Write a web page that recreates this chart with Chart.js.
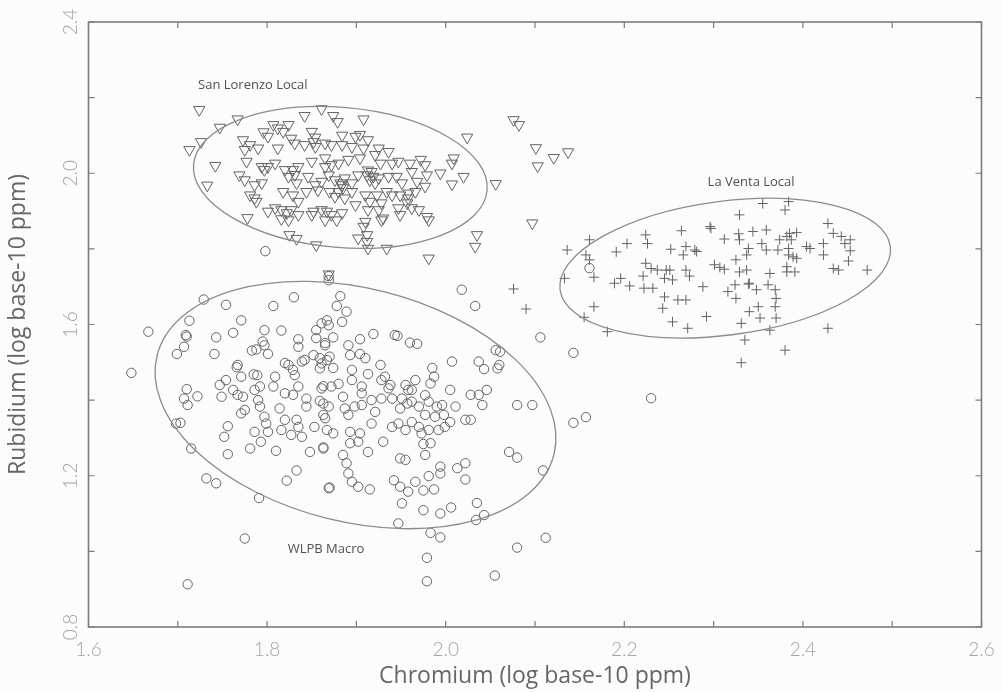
<!DOCTYPE html>
<html>
<head>
<meta charset="utf-8">
<script src="https://cdn.jsdelivr.net/npm/chart.js@4.4.1/dist/chart.umd.min.js"></script>
<style>
  html, body { margin: 0; padding: 0; background: #fcfcfc; }
  #wrap { width: 1002px; height: 692px; }
</style>
</head>
<body>
<div id="wrap"><canvas id="cr_rb" width="1002" height="692"></canvas></div>
<script>
(function () {
  'use strict';

  // 目盛り
  const xTicks = [1.6, 1.8, 2.0, 2.2, 2.4, 2.6];
  const xMinor = [1.7, 1.9, 2.1, 2.3, 2.5];
  const yTicks = [0.8, 1.2, 1.6, 2.0, 2.4];
  const yMinor = [1.0, 1.4, 1.8, 2.2];

  // San Lorenzo Local (▽)
  const sanLorenzo = [
    [1.724, 2.168], [1.767, 2.143], [1.747, 2.121], [1.842, 2.152], [1.861, 2.170], [1.874, 2.152], [1.879, 2.136], [1.908, 2.143],
    [1.713, 2.062], [1.726, 2.083], [1.742, 2.020], [1.733, 1.968], [2.024, 2.095], [2.009, 2.040], [2.007, 2.026], [1.994, 2.000],
    [2.020, 1.991], [2.007, 1.971], [2.035, 1.837], [2.033, 1.806], [1.981, 1.775], [1.934, 1.801], [1.855, 1.810], [1.825, 1.837],
    [1.833, 1.827], [1.778, 1.882], [1.902, 1.828], [1.912, 1.819], [1.913, 1.801], [1.912, 1.837], [1.908, 1.859], [1.910, 1.872],
    [1.981, 1.876], [1.979, 1.885], [1.928, 1.876], [1.930, 1.881],
    [1.796, 2.109], [1.807, 2.128], [1.812, 2.119], [1.824, 2.128], [1.818, 2.110], [1.801, 2.097], [1.850, 2.110], [1.854, 2.095],
    [1.884, 2.100], [1.899, 2.097], [1.904, 2.102], [1.913, 2.088], [1.773, 2.088], [1.781, 2.075], [1.790, 2.066], [1.775, 2.062],
    [1.812, 2.066], [1.827, 2.092], [1.831, 2.079], [1.842, 2.075], [1.854, 2.070], [1.865, 2.079], [1.872, 2.075], [1.884, 2.075],
    [1.895, 2.070], [1.908, 2.066], [1.925, 2.066], [1.936, 2.057], [1.921, 2.049], [1.777, 2.031], [1.794, 2.017], [1.801, 2.017],
    [1.809, 2.026], [1.820, 2.009], [1.829, 2.009], [1.835, 2.017], [1.850, 2.031], [1.865, 2.040], [1.872, 2.022], [1.880, 2.026],
    [1.891, 2.036], [1.904, 2.040], [1.917, 2.004], [1.927, 2.026], [1.940, 2.026], [1.947, 2.031], [1.960, 2.026], [1.972, 2.036],
    [1.977, 2.022], [1.962, 2.004], [1.979, 1.995], [1.769, 1.995], [1.775, 1.982], [1.786, 1.969], [1.794, 1.974], [1.824, 1.991],
    [1.833, 1.974], [1.846, 1.991], [1.854, 1.969], [1.861, 1.978], [1.869, 1.995], [1.876, 1.982], [1.884, 1.969], [1.887, 1.987],
    [1.895, 1.974], [1.902, 1.995], [1.912, 1.995], [1.915, 1.982], [1.925, 1.987], [1.936, 1.991], [1.945, 1.991], [1.951, 1.974],
    [1.968, 1.978], [1.977, 1.965], [1.781, 1.942], [1.786, 1.934], [1.788, 1.925], [1.818, 1.951], [1.829, 1.942], [1.835, 1.925],
    [1.844, 1.951], [1.857, 1.955], [1.870, 1.951], [1.876, 1.938], [1.887, 1.934], [1.895, 1.951], [1.910, 1.942], [1.923, 1.942],
    [1.934, 1.951], [1.940, 1.942], [1.949, 1.942], [1.958, 1.947], [1.966, 1.951], [1.958, 1.934], [1.957, 1.921], [1.928, 1.921],
    [1.915, 1.925], [1.801, 1.899], [1.809, 1.908], [1.816, 1.903], [1.822, 1.895], [1.827, 1.903], [1.835, 1.890], [1.852, 1.899],
    [1.861, 1.903], [1.867, 1.899], [1.872, 1.890], [1.884, 1.895], [1.878, 1.876], [1.865, 1.876], [1.850, 1.890], [1.824, 1.876],
    [1.816, 1.879], [1.899, 1.916], [1.913, 1.903], [1.925, 1.903], [1.947, 1.908], [1.962, 1.908], [1.970, 1.903], [1.949, 1.890],
    [1.882, 1.974], [1.885, 1.961], [1.913, 2.008], [1.919, 1.991], [1.921, 1.974], [1.880, 1.951], [1.831, 1.996], [1.797, 2.009],
    [1.852, 2.083], [1.865, 2.017],
    [2.076, 2.141], [2.082, 2.128], [2.101, 2.067], [2.121, 2.041], [2.137, 2.056], [2.103, 2.019], [2.056, 1.972], [2.097, 1.868],
    [1.869, 1.733],
  ];

  // La Venta Local (+)
  const laVenta = [
    [2.136, 1.797], [2.161, 1.824], [2.157, 1.784], [2.161, 1.771], [2.133, 1.722], [2.166, 1.725], [2.166, 1.647], [2.155, 1.619],
    [2.181, 1.581], [2.191, 1.792], [2.203, 1.814], [2.189, 1.709], [2.196, 1.722], [2.206, 1.702], [2.224, 1.837], [2.226, 1.814],
    [2.224, 1.762], [2.230, 1.748], [2.221, 1.728], [2.222, 1.696], [2.232, 1.696], [2.237, 1.744], [2.247, 1.744], [2.251, 1.744],
    [2.245, 1.722], [2.254, 1.718], [2.252, 1.799], [2.264, 1.848], [2.269, 1.806], [2.266, 1.784], [2.279, 1.797], [2.281, 1.793],
    [2.269, 1.744], [2.273, 1.728], [2.245, 1.673], [2.243, 1.643], [2.260, 1.665], [2.269, 1.665], [2.254, 1.607], [2.271, 1.590],
    [2.288, 1.700], [2.292, 1.621], [2.296, 1.859], [2.297, 1.854], [2.312, 1.826], [2.301, 1.758], [2.307, 1.751], [2.312, 1.746],
    [2.316, 1.687], [2.324, 1.705], [2.325, 1.669], [2.328, 1.840], [2.329, 1.824], [2.325, 1.771], [2.339, 1.801], [2.337, 1.784],
    [2.329, 1.739], [2.337, 1.744], [2.340, 1.709], [2.339, 1.707], [2.348, 1.692], [2.350, 1.647], [2.340, 1.634], [2.352, 1.617],
    [2.331, 1.603], [2.329, 1.890], [2.355, 1.920], [2.344, 1.846], [2.359, 1.850], [2.354, 1.814], [2.359, 1.797], [2.363, 1.735],
    [2.361, 1.705], [2.369, 1.692], [2.370, 1.669], [2.369, 1.647], [2.370, 1.617], [2.363, 1.585], [2.335, 1.559], [2.331, 1.499],
    [2.380, 1.532], [2.380, 1.903], [2.384, 1.925], [2.382, 1.833], [2.385, 1.841], [2.387, 1.824], [2.393, 1.843], [2.374, 1.824],
    [2.372, 1.797], [2.384, 1.801], [2.389, 1.779], [2.393, 1.775], [2.382, 1.753], [2.391, 1.739], [2.382, 1.739], [2.408, 1.801],
    [2.404, 1.806], [2.423, 1.814], [2.423, 1.784], [2.428, 1.867], [2.434, 1.841], [2.443, 1.833], [2.447, 1.814], [2.453, 1.824],
    [2.453, 1.795], [2.451, 1.768], [2.434, 1.748], [2.440, 1.744], [2.472, 1.744], [2.428, 1.590], [2.384, 1.784],
    [2.076, 1.694], [2.090, 1.641],
  ];

  // WLPB Macro (○)
  const wlpb = [
    [1.729, 1.666], [1.754, 1.652], [1.807, 1.649], [1.830, 1.672], [1.667, 1.581], [1.713, 1.610], [1.771, 1.611], [1.709, 1.572],
    [1.710, 1.568], [1.743, 1.566], [1.762, 1.578], [1.797, 1.585], [1.816, 1.584], [1.835, 1.561], [1.835, 1.541], [1.707, 1.541],
    [1.699, 1.522], [1.741, 1.522], [1.783, 1.531], [1.788, 1.534], [1.795, 1.555], [1.797, 1.545], [1.801, 1.522], [1.855, 1.585],
    [1.861, 1.603], [1.855, 1.564], [1.865, 1.551], [1.852, 1.519], [1.859, 1.511], [1.867, 1.506], [1.648, 1.472], [1.767, 1.493],
    [1.766, 1.487], [1.771, 1.462], [1.785, 1.468], [1.789, 1.466], [1.809, 1.462], [1.820, 1.498], [1.824, 1.493], [1.829, 1.480],
    [1.839, 1.502], [1.842, 1.506], [1.831, 1.466], [1.859, 1.484], [1.710, 1.429], [1.707, 1.404], [1.711, 1.387], [1.722, 1.410],
    [1.747, 1.440], [1.754, 1.453], [1.749, 1.409], [1.762, 1.427], [1.767, 1.414], [1.773, 1.409], [1.786, 1.427], [1.792, 1.436],
    [1.790, 1.400], [1.792, 1.383], [1.807, 1.436], [1.820, 1.418], [1.829, 1.414], [1.835, 1.436], [1.844, 1.404], [1.844, 1.383],
    [1.861, 1.431], [1.863, 1.391], [1.698, 1.338], [1.703, 1.340], [1.756, 1.331], [1.771, 1.365], [1.775, 1.374], [1.797, 1.356],
    [1.799, 1.338], [1.814, 1.378], [1.820, 1.348], [1.816, 1.321], [1.833, 1.348], [1.835, 1.329], [1.786, 1.316], [1.801, 1.316],
    [1.827, 1.308], [1.839, 1.303], [1.752, 1.303], [1.865, 1.352], [1.867, 1.321], [1.853, 1.329],
    [1.756, 1.257], [1.781, 1.272], [1.793, 1.290], [1.810, 1.266], [1.848, 1.263], [1.863, 1.272], [1.715, 1.272], [1.732, 1.193],
    [1.743, 1.180], [1.791, 1.141], [1.822, 1.187], [1.833, 1.214], [1.869, 1.167], [1.775, 1.034], [1.711, 0.913],
    [1.869, 1.728], [1.869, 1.717], [1.882, 1.675], [1.878, 1.649], [1.889, 1.634], [1.884, 1.607], [1.867, 1.611], [1.869, 1.598],
    [1.874, 1.566], [1.865, 1.545], [1.870, 1.515], [1.861, 1.497], [1.874, 1.485], [1.919, 1.575], [1.943, 1.572], [1.946, 1.570],
    [1.960, 1.552], [1.968, 1.549], [1.904, 1.561], [1.891, 1.545], [1.893, 1.519], [1.904, 1.522], [1.910, 1.511], [1.927, 1.493],
    [1.895, 1.480], [1.913, 1.469], [1.906, 1.436], [1.895, 1.453], [1.906, 1.418], [1.880, 1.443], [1.872, 1.436], [1.863, 1.437],
    [1.869, 1.383], [1.885, 1.409], [1.887, 1.378], [1.891, 1.361], [1.898, 1.383], [1.906, 1.387], [1.917, 1.400], [1.921, 1.369],
    [1.928, 1.453], [1.932, 1.462], [1.938, 1.440], [1.936, 1.431], [1.955, 1.440], [1.958, 1.427], [1.966, 1.453], [1.962, 1.427],
    [1.928, 1.404], [1.940, 1.404], [1.951, 1.404], [1.949, 1.378], [1.957, 1.391], [1.962, 1.396], [1.970, 1.383], [1.977, 1.413],
    [1.985, 1.485], [1.987, 1.462], [1.983, 1.444], [1.981, 1.396], [1.990, 1.383], [1.996, 1.387], [1.977, 1.361], [1.988, 1.356],
    [1.998, 1.361], [2.005, 1.342], [2.007, 1.502], [2.005, 1.427], [2.011, 1.383], [2.018, 1.692], [2.033, 1.649], [2.037, 1.502],
    [2.043, 1.482], [2.056, 1.532], [2.061, 1.528], [2.060, 1.493], [2.058, 1.484], [2.028, 1.414], [2.037, 1.414], [2.046, 1.427],
    [2.041, 1.387], [2.022, 1.348], [2.028, 1.348], [2.080, 1.387], [2.097, 1.387], [2.106, 1.566], [2.143, 1.525], [2.143, 1.340],
    [1.940, 1.329], [1.947, 1.338], [1.955, 1.321], [1.962, 1.342], [1.970, 1.329], [1.973, 1.312], [1.981, 1.321], [1.992, 1.321],
    [1.999, 1.329], [1.917, 1.338], [1.904, 1.312], [1.893, 1.316], [1.874, 1.312], [1.863, 1.361], [1.859, 1.398],
    [1.863, 1.275], [1.893, 1.286], [1.902, 1.290], [1.913, 1.263], [1.885, 1.255], [1.889, 1.233], [1.891, 1.206], [1.895, 1.184],
    [1.902, 1.171], [1.915, 1.164], [1.870, 1.169], [1.930, 1.290], [1.975, 1.284], [1.983, 1.286], [1.977, 1.255], [1.949, 1.246],
    [1.955, 1.242], [1.942, 1.188], [1.949, 1.171], [1.958, 1.158], [1.966, 1.184], [1.975, 1.161], [1.987, 1.164], [1.981, 1.199],
    [1.994, 1.206], [1.994, 1.224], [2.013, 1.220], [2.022, 1.233], [2.022, 1.190], [1.951, 1.127], [1.975, 1.109], [1.994, 1.100],
    [2.006, 1.116], [2.035, 1.128], [2.043, 1.096], [2.034, 1.083], [2.071, 1.263], [2.080, 1.248], [2.109, 1.214], [1.947, 1.074],
    [1.983, 1.049], [1.994, 1.037], [1.979, 0.983], [1.979, 0.921], [2.055, 0.936], [2.080, 1.010], [2.112, 1.036],
    [2.161, 1.749], [2.230, 1.405], [2.157, 1.355], [1.798, 1.794],
  ];

  // 楕円 [中心x, 中心y, 半径x, 半径y, 傾き(度)]
  const ellipses = [
    [1.882, 1.989, 0.165, 0.185, 5],
    [2.313, 1.749, 0.1865, 0.177, -7.5],
    [1.899, 1.387, 0.229, 0.309, 14],
  ];

  // グループ名と位置
  const groupNames = ['San Lorenzo Local', 'La Venta Local', 'WLPB Macro'];
  const namePos = [[1.784, 2.233], [2.342, 1.977], [1.866, 1.006]];

  const markColor = '#646464';

  // 楕円・枠・内向き目盛り・ラベル
  const decor = {
    id: 'decor',
    afterDatasetsDraw(chart) {
      const { ctx, chartArea: a, scales: { x, y } } = chart;
      ctx.save();

      ctx.strokeStyle = '#8c8c8c';
      ctx.lineWidth = 1.3;
      ellipses.forEach(e => {
        const cx = x.getPixelForValue(e[0]);
        const cy = y.getPixelForValue(e[1]);
        const rx = Math.abs(x.getPixelForValue(e[0] + e[2]) - cx);
        const ry = Math.abs(y.getPixelForValue(e[1] + e[3]) - cy);
        ctx.beginPath();
        ctx.ellipse(cx, cy, rx, ry, e[4] * Math.PI / 180, 0, Math.PI * 2);
        ctx.stroke();
      });

      ctx.strokeStyle = '#7c7c7c';
      ctx.lineWidth = 1.6;
      ctx.strokeRect(a.left, a.top, a.right - a.left, a.bottom - a.top);

      ctx.lineWidth = 1.2;
      const tl = 6;
      ctx.beginPath();
      xTicks.concat(xMinor).forEach(v => {
        const px = x.getPixelForValue(v);
        ctx.moveTo(px, a.bottom); ctx.lineTo(px, a.bottom - tl);
        ctx.moveTo(px, a.top); ctx.lineTo(px, a.top + tl);
      });
      yTicks.concat(yMinor).forEach(v => {
        const py = y.getPixelForValue(v);
        ctx.moveTo(a.left, py); ctx.lineTo(a.left + tl, py);
        ctx.moveTo(a.right, py); ctx.lineTo(a.right - tl, py);
      });
      ctx.stroke();

      ctx.fillStyle = '#505050';
      ctx.font = '13px "Open Sans"';
      ctx.textAlign = 'center';
      ctx.textBaseline = 'middle';
      groupNames.forEach((n, i) => {
        ctx.fillText(n, x.getPixelForValue(namePos[i][0]), y.getPixelForValue(namePos[i][1]));
      });
      ctx.restore();
    }
  };

  const tickFont = { family: 'Lato', size: 19, weight: 300 };
  const titleFont = { family: 'Open Sans', size: 23 };

  const ctx = document.getElementById('cr_rb').getContext('2d');

  new Chart(ctx, {
    type: 'scatter',
    data: {
      datasets: [
        { label: groupNames[0], data: sanLorenzo, pointStyle: 'triangle', rotation: 180, pointRadius: 6.5,
          borderColor: markColor, backgroundColor: 'rgba(0,0,0,0)', borderWidth: 1 },
        { label: groupNames[1], data: laVenta, pointStyle: 'cross', pointRadius: 5,
          borderColor: markColor, backgroundColor: 'rgba(0,0,0,0)', borderWidth: 1 },
        { label: groupNames[2], data: wlpb, pointStyle: 'circle', pointRadius: 4.7,
          borderColor: markColor, backgroundColor: 'rgba(0,0,0,0)', borderWidth: 1 },
      ],
    },
    options: {
      responsive: false,
      animation: false,
      layout: { padding: { left: 0, right: 20.5, top: 22, bottom: 0 } },
      plugins: { legend: { display: false }, tooltip: { enabled: false } },
      scales: {
        x: {
          type: 'linear', min: 1.6, max: 2.6,
          afterBuildTicks: s => { s.ticks = xTicks.map(v => ({ value: v })); },
          afterFit: s => { s.height = 65; },
          grid: { display: false, drawTicks: false },
          border: { display: false },
          ticks: { color: '#a4a4a4', font: { ...tickFont, lineHeight: 2.2 }, padding: 2, autoSkip: false, maxRotation: 0,
            callback: v => v.toFixed(1) },
          title: { display: true, text: 'Chromium (log base-10 ppm)', color: '#666', font: titleFont,
            padding: { top: 0, bottom: 1.5 } },
        },
        y: {
          type: 'linear', min: 0.8, max: 2.4,
          afterBuildTicks: s => { s.ticks = yTicks.map(v => ({ value: v })); },
          afterFit: s => { s.width = 88.5; },
          grid: { display: false, drawTicks: false },
          border: { display: false },
          ticks: { color: '#a4a4a4', font: tickFont, padding: 4, autoSkip: false,
            minRotation: 90, maxRotation: 90, crossAlign: 'center',
            callback: v => v.toFixed(1) },
          title: { display: true, text: 'Rubidium (log base-10 ppm)', color: '#666', font: titleFont,
            padding: { top: 4.5, bottom: 0 } },
        },
      },
    },
    plugins: [decor],
  });
})();
</script>
</body>
</html>
